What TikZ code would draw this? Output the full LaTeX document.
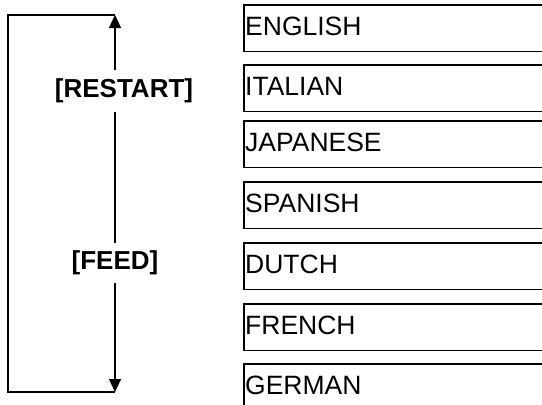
\documentclass[tikz,border=0pt]{standalone}
\usepackage{fontspec}
\setmainfont{Liberation Sans}
\usetikzlibrary{arrows.meta}
\begin{document}
\begin{tikzpicture}[x=1pt,y=-1pt,line width=1.2pt,
  langbox/.style={anchor=north west, minimum height=45.5pt,
    text width=320pt, align=left, inner xsep=0.6pt, inner ysep=0pt,
    text height=19pt, text depth=5pt,
    font=\fontsize{26.5}{30}\selectfont},
  keylabel/.style={inner sep=0pt, font=\fontsize{26}{30}\selectfont\bfseries},
  uptip/.style={-{Triangle[width=12pt,length=13pt]}}]
\useasboundingbox (0,0) rectangle (542,405);
% language boxes (running off the right edge)
\node[langbox] (english)  at (244,5)   {ENGLISH};
\node[langbox] (italian)  at (244,65)  {ITALIAN};
\node[langbox] (japanese) at (244,121) {JAPANESE};
\node[langbox] (spanish)  at (244,182) {SPANISH};
\node[langbox] (dutch)    at (244,243) {DUTCH};
\node[langbox] (french)   at (244,304) {FRENCH};
\node[langbox] (german)   at (244,364) {GERMAN};
\coordinate (edge) at (543,0);
\foreach \b in {english,italian,japanese,spanish,dutch,french,german}
  \draw (\b.north -| edge) -- (\b.north west) -- (\b.south west) -- (\b.south -| edge);
% key labels
\node[keylabel, minimum height=40pt] (restart) at (124,91) {[RESTART]};
\node[keylabel, minimum height=39pt] (feed) at (115,263) {[FEED]};
% bracket
\coordinate (tl) at (8,15);
\coordinate (tr) at (115,15);
\coordinate (bl) at (8,392);
\coordinate (br) at (115,392);
\draw (tr) -- (tl) -- (bl) -- (br);
\draw[uptip] (restart.north -| tr) -- (tr);
\draw (restart.south -| tr) -- (feed.north -| tr);
\draw[uptip] (feed.south -| tr) -- (br);
\end{tikzpicture}
\end{document}
